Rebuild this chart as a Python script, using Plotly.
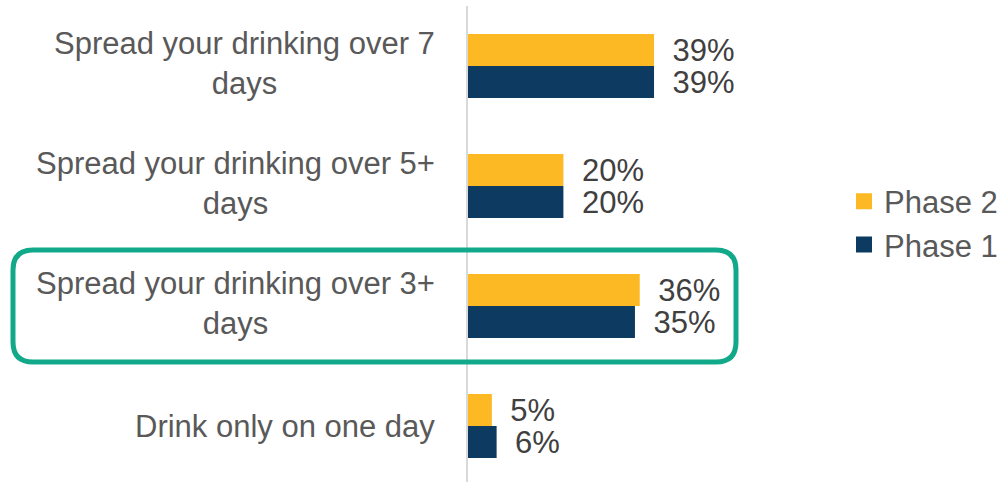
import plotly.graph_objects as go

# Survey answers, listed top to bottom
categories = [
    "Spread your drinking over 7 days",
    "Spread your drinking over 5+ days",
    "Spread your drinking over 3+ days",
    "Drink only on one day",
]
category_labels = [
    "Spread your drinking over 7<br>days",
    "Spread your drinking over 5+<br>days",
    "Spread your drinking over 3+<br>days",
    "Drink only on one day",
]
phase2_values = [39, 20, 36, 5]
phase1_values = [39, 20, 35, 6]
highlighted = "Spread your drinking over 3+ days"

W, H = 1005, 482
ML, MR, MT, MB = 468, 203, 6, 0
PLOT_W = W - ML - MR
PLOT_H = H - MT - MB
ROW_PX = 120  # pixel height of one category band

FONT = "Arial, Liberation Sans, Helvetica, sans-serif"
YELLOW = "#FDB924"
NAVY = "#0C3A60"
TEAL = "#12A98B"
LABEL_GREY = "#595959"
VALUE_GREY = "#404040"


def px_to_paper_x(px):
    return (px - ML) / PLOT_W


def px_to_paper_y(py):
    return 1 - (py - MT) / PLOT_H


series = [
    ("Phase 2", phase2_values, YELLOW),
    ("Phase 1", phase1_values, NAVY),
]

fig = go.Figure()
for name, vals, color in series:
    fig.add_trace(go.Bar(
        name=name,
        y=categories,
        x=vals,
        orientation="h",
        marker=dict(color=color, line=dict(width=0)),
        texttemplate="\u2002%{x}%",
        textposition="outside",
        constraintext="none",
        cliponaxis=False,
        textfont=dict(family=FONT, size=31, color=VALUE_GREY),
        hoverinfo="skip",
        showlegend=False,
    ))

# Legend keys drawn as larger square markers
for name, _, color in series:
    fig.add_trace(go.Scatter(
        name=name, x=[None], y=[None], mode="markers",
        marker=dict(symbol="square", size=16, color=color),
        showlegend=True, hoverinfo="skip",
    ))

# Category labels, centred line by line to the left of the axis
annotations = []
for cat, lab in zip(categories, category_labels):
    annotations.append(dict(
        x=px_to_paper_x(437), xref="paper", xanchor="right",
        y=cat, yref="y", yanchor="middle",
        yshift=3 if "<br>" in lab else 0,
        text=lab, align="center", showarrow=False,
        font=dict(family=FONT, size=31, color=LABEL_GREY),
    ))

# Rounded highlight box around one category
idx = categories.index(highlighted)
x0, x1 = px_to_paper_x(13), px_to_paper_x(736)
half = 112 / ROW_PX / 2
y0, y1 = idx - half, idx + half
rx = 20 / PLOT_W
ry = 20 / ROW_PX
path = (
    f"M {x0 + rx},{y0} L {x1 - rx},{y0} Q {x1},{y0} {x1},{y0 + ry} "
    f"L {x1},{y1 - ry} Q {x1},{y1} {x1 - rx},{y1} "
    f"L {x0 + rx},{y1} Q {x0},{y1} {x0},{y1 - ry} "
    f"L {x0},{y0 + ry} Q {x0},{y0} {x0 + rx},{y0} Z"
)

fig.update_layout(
    width=W, height=H,
    margin=dict(l=ML, r=MR, t=MT, b=MB, pad=0),
    paper_bgcolor="white", plot_bgcolor="white",
    barmode="group", bargap=1 - 64 / ROW_PX, bargroupgap=0,
    showlegend=True,
    legend=dict(
        x=px_to_paper_x(844), xanchor="left",
        y=px_to_paper_y(223), yanchor="middle",
        traceorder="normal",
        font=dict(family=FONT, size=31, color=LABEL_GREY),
        bgcolor="rgba(0,0,0,0)", borderwidth=0,
        itemclick=False, itemdoubleclick=False,
    ),
    xaxis=dict(range=[0, PLOT_W / 4.77], visible=False, fixedrange=True),
    yaxis=dict(
        type="category", categoryorder="array", categoryarray=categories,
        range=[-0.5 + PLOT_H / ROW_PX, -0.5],
        showticklabels=False, showgrid=False, zeroline=False, ticks="",
        showline=True, linecolor="#D9D9D9", linewidth=2, fixedrange=True,
    ),
    annotations=annotations,
    shapes=[dict(
        type="path", path=path, xref="paper", yref="y",
        line=dict(color=TEAL, width=5), fillcolor="rgba(0,0,0,0)",
        layer="above",
    )],
)

fig.write_html("out.html", config={"displayModeBar": False})
